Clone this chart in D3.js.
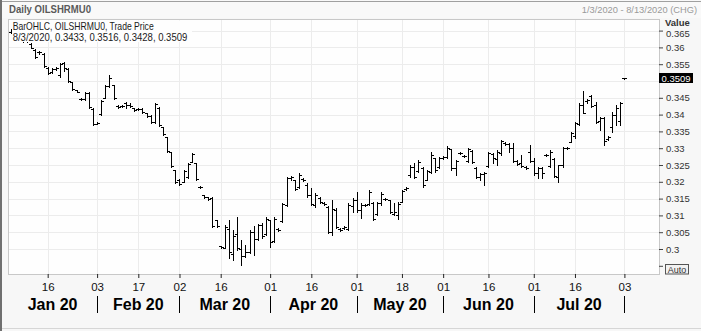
<!DOCTYPE html>
<html><head><meta charset="utf-8">
<script src="https://cdn.jsdelivr.net/npm/d3@7"></script>
<style>html,body{margin:0;padding:0;background:#f7f7f7;}svg{display:block;font-family:"Liberation Sans",Arial,sans-serif;}</style>
</head><body><svg id="c" width="701" height="331"></svg>
<script>
// ---- trading days (categories) ----
const janDays = [3,6,7,8,9,10,13,14,15,16,17,20,21,22,23,24,27,28,29,30,31];
const febDays = [3,4,5,6,7,10,11,12,13,14,17,18,19,20,21,24,25,26,27,28];
const marDays = [2,3,4,5,6,9,10,11,12,13,16,17,18,19,20,23,24,25,26,27,30,31];
const aprDays = [1,2,3,6,7,8,9,13,14,15,16,17,20,21,22,23,24,27,28,29,30];
const mayDays = [1,4,5,6,7,8,11,12,13,14,15,18,19,20,21,22,25,26,27,28,29];
const junDays = [1,2,3,4,5,8,9,10,11,12,15,16,17,18,19,22,23,24,25,26,29,30];
const julDays = [1,2,6,7,8,9,10,13,14,15,16,17,20,21,22,23,24,27,28,29,30,31];
const augDays = [3];

// ---- OHLC series ----
const openV = [.3646,.3648,.3636,.3627,.3620,.3610,.3593,.3585,.3580,.3540,.3526,.3537,.3518,.3553,.3535,.3496,.3472,.3446,.3445,.3465,
.3418,.3373,.3402,.3450,.3485,.3487,.3427,.3425,.3436,.3430,.3419,.3416,.3418,.3404,.3397,.3378,.3421,.3362,.3332,.3288,
.3234,.3205,.3200,.3213,.3260,.3255,.3186,.3160,.3154,.3153,.3085,.3008,.3004,.3060,.2985,.3045,.3000,.2980,.2990,.3050,
.3030,.3072,.3045,.3085,.3025,.3060,.3082,.3130,.3211,.3204,.3185,.3209,.3190,.3160,.3130,.3153,.3138,.3126,.3050,.3115,
.3060,.3062,.3060,.3128,.3145,.3115,.3131,.3133,.3138,.3105,.3137,.3150,.3145,.3105,.3100,.3140,.3178,.3220,.3245,.3232,
.3240,.3206,.3230,.3270,.3245,.3272,.3275,.3297,.3240,.3285,.3278,.3262,.3293,.3242,.3215,.3222,.3248,.3284,.3268,.3285,
.3316,.3313,.3300,.3262,.3255,.3245,.3289,.3262,.3225,.3240,.3280,.3248,.3268,.3215,.3250,.3300,.3318,.3335,.3372,.3430,
.3440,.3455,.3430,.3380,.3390,.3326,.3363,.3399,.3380,.3509];
const highV = [.3655,.3650,.3640,.3632,.3625,.3612,.3595,.3589,.3583,.3542,.3539,.3542,.3554,.3556,.3539,.3497,.3473,.3448,.3467,.3467,
.3420,.3378,.3443,.3488,.3518,.3488,.3429,.3429,.3437,.3434,.3420,.3420,.3420,.3405,.3399,.3434,.3423,.3363,.3333,.3289,
.3235,.3208,.3235,.3256,.3286,.3256,.3187,.3161,.3155,.3155,.3086,.3010,.3071,.3086,.3057,.3095,.3027,.3012,.3057,.3068,
.3074,.3077,.3095,.3086,.3095,.3062,.3137,.3214,.3217,.3205,.3226,.3211,.3196,.3182,.3167,.3155,.3140,.3128,.3146,.3122,
.3062,.3068,.3137,.3152,.3170,.3137,.3134,.3176,.3140,.3140,.3170,.3152,.3146,.3137,.3140,.3176,.3185,.3250,.3256,.3265,
.3244,.3235,.3289,.3271,.3274,.3277,.3307,.3298,.3265,.3289,.3280,.3301,.3295,.3244,.3226,.3229,.3289,.3286,.3295,.3324,
.3318,.3315,.3315,.3265,.3280,.3247,.3310,.3271,.3244,.3244,.3283,.3295,.3271,.3250,.3304,.3304,.3348,.3378,.3434,.3470,
.3446,.3458,.3437,.3393,.3393,.3336,.3408,.3429,.3437,.3510];
const lowV = [.3643,.3632,.3625,.3617,.3615,.3598,.3568,.3580,.3542,.3521,.3524,.3532,.3512,.3530,.3497,.3473,.3467,.3444,.3443,.3420,
.3369,.3372,.3399,.3449,.3482,.3446,.3420,.3423,.3420,.3423,.3411,.3414,.3405,.3393,.3375,.3375,.3366,.3339,.3289,.3244,
.3196,.3190,.3199,.3211,.3259,.3205,.3182,.3152,.3146,.3065,.3065,.3003,.3003,.2973,.2967,.2997,.2952,.2976,.2988,.2982,
.3027,.3033,.3042,.3006,.3021,.3054,.3080,.3128,.3205,.3176,.3182,.3202,.3155,.3131,.3125,.3137,.3131,.3048,.3042,.3062,
.3054,.3060,.3057,.3110,.3110,.3092,.3128,.3131,.3086,.3101,.3131,.3146,.3107,.3101,.3089,.3140,.3176,.3214,.3211,.3229,
.3185,.3205,.3226,.3229,.3241,.3268,.3271,.3235,.3220,.3283,.3274,.3259,.3256,.3211,.3205,.3190,.3244,.3256,.3250,.3280,
.3309,.3289,.3259,.3250,.3244,.3238,.3259,.3220,.3211,.3211,.3277,.3244,.3214,.3199,.3244,.3298,.3318,.3330,.3369,.3405,
.3434,.3423,.3375,.3354,.3310,.3324,.3348,.3369,.3369,.3508];
const closeV = [.3655,.3635,.3628,.3620,.3618,.3598,.3572,.3587,.3545,.3524,.3537,.3540,.3552,.3538,.3500,.3475,.3468,.3446,.3465,.3422,
.3372,.3376,.3440,.3485,.3510,.3448,.3422,.3427,.3428,.3427,.3413,.3418,.3407,.3395,.3377,.3432,.3370,.3341,.3291,.3246,
.3198,.3192,.3233,.3254,.3283,.3208,.3184,.3155,.3150,.3068,.3067,.3005,.3065,.2990,.3040,.3002,.2978,.2991,.3050,.3030,
.3070,.3040,.3090,.3020,.3090,.3057,.3133,.3211,.3214,.3180,.3220,.3205,.3160,.3135,.3160,.3140,.3133,.3052,.3120,.3065,
.3056,.3065,.3130,.3145,.3115,.3130,.3131,.3170,.3090,.3137,.3165,.3149,.3110,.3110,.3135,.3172,.3183,.3245,.3215,.3260,
.3190,.3232,.3280,.3235,.3270,.3274,.3300,.3240,.3262,.3287,.3276,.3298,.3260,.3215,.3223,.3225,.3285,.3270,.3290,.3320,
.3312,.3300,.3262,.3254,.3248,.3241,.3262,.3225,.3240,.3226,.3279,.3290,.3218,.3250,.3300,.3302,.3345,.3375,.3430,.3405,
.3443,.3425,.3378,.3390,.3320,.3333,.3399,.3420,.3434,.3509];

// ---- axis labels ----
const tickDates = ["2020-01-16","2020-02-03","2020-02-17","2020-03-02","2020-03-16","2020-04-01","2020-04-16","2020-05-01","2020-05-18","2020-06-01","2020-06-16","2020-07-01","2020-07-16","2020-08-03"];
const tickLabels = ["16","03","17","02","16","01","16","01","18","01","16","01","16","03"];
const monthStarts = ["2020-02-03","2020-03-02","2020-04-01","2020-05-01","2020-06-01","2020-07-01","2020-08-03"];
const monthLabels = ["Jan 20","Feb 20","Mar 20","Apr 20","May 20","Jun 20","Jul 20"];
const yTicks = [0.295,0.3,0.305,0.31,0.315,0.32,0.325,0.33,0.335,0.34,0.345,0.35,0.355,0.36,0.365];
const yLabels = ["","0.3","0.305","0.31","0.315","0.32","0.325","0.33","0.335","0.34","0.345","","0.355","0.36","0.365"];
const gridTicks = [0.3,0.305,0.31,0.315,0.32,0.325,0.33,0.335,0.34,0.345,0.35,0.355,0.36,0.365];
const lastPrice = "0.3509";
const titleText = "Daily OILSHRMU0";
const rangeText = "1/3/2020 - 8/13/2020 (CHG)";
const legend1 = "BarOHLC, OILSHRMU0, Trade Price";
const legend2 = "8/3/2020, 0.3433, 0.3516, 0.3428, 0.3509";

const pad = n => String(n).padStart(2,"0");
const dates = [];
[[1,janDays],[2,febDays],[3,marDays],[4,aprDays],[5,mayDays],[6,junDays],[7,julDays],[8,augDays]]
  .forEach(([m,arr]) => arr.forEach(d => dates.push(`2020-${pad(m)}-${pad(d)}`)));
const data = dates.map((d,i)=>({d, o:openV[i], h:highV[i], l:lowV[i], c:closeV[i]}));

const svg = d3.select("#c");
const P = {l:8, t:19, r:659, b:274};
const x = d3.scalePoint().domain(dates).range([10.6, 624.4]);
const y = d3.scaleLinear().domain([0.3,0.365]).range([249,30.6]);
const px = v => Math.round(v)+0.5;

// frame
svg.append("rect").attr("width",701).attr("height",331).attr("fill","#f7f7f7");
svg.append("rect").attr("x",0).attr("y",0).attr("width",701).attr("height",18).attr("fill","#f9f9f9");
svg.append("line").attr("x1",0).attr("x2",701).attr("y1",1.5).attr("y2",1.5).attr("stroke","#a0a0a0");
svg.append("line").attr("x1",1).attr("x2",1).attr("y1",0).attr("y2",331).attr("stroke","#707070").attr("stroke-width",2);
svg.append("line").attr("x1",2).attr("x2",701).attr("y1",328.5).attr("y2",328.5).attr("stroke","#d6d6d6");

// plot area
svg.append("rect").attr("x",P.l+0.5).attr("y",P.t+0.5).attr("width",P.r-P.l).attr("height",P.b-P.t)
  .attr("fill","#fefefe").attr("stroke","#c8c8c8");

const grid = svg.append("g").attr("stroke","#ececec").attr("shape-rendering","crispEdges");
grid.selectAll("line.h").data(gridTicks).join("line").attr("class","h")
  .attr("x1",P.l+1).attr("x2",P.r).attr("y1",d=>px(y(d))).attr("y2",d=>px(y(d)));
grid.selectAll("line.v").data(tickDates).join("line").attr("class","v")
  .attr("y1",P.t+1).attr("y2",P.b).attr("x1",d=>px(x(d))).attr("x2",d=>px(x(d)));

// bars
const bars = svg.append("g").attr("stroke","#000").attr("stroke-width",1).attr("fill","none").attr("shape-rendering","crispEdges");
bars.selectAll("path").data(data).join("path")
  .attr("d", d => {
    const cx = Math.round(x(d.d))+0.5;
    const yh = Math.round(y(d.h)), yl = Math.max(Math.round(y(d.l)), yh+1);
    const yo = Math.round(y(d.o))+0.5, yc = Math.round(y(d.c))+0.5;
    return `M${cx},${yh}V${yl+1}M${cx-2.5},${yo}H${cx}M${cx},${yc}H${cx+2.5}`;
  });

// legend
svg.append("rect").attr("x",12).attr("y",20.5).attr("width",180).attr("height",21.5).attr("fill","#fefefe");
svg.append("text").attr("x",12.7).attr("y",30).attr("font-size",10.5).attr("fill","#1a1a1a")
  .attr("textLength",141).attr("lengthAdjust","spacingAndGlyphs").text(legend1);
svg.append("text").attr("x",12.7).attr("y",40.5).attr("font-size",10.5).attr("fill","#1a1a1a")
  .attr("textLength",174.6).attr("lengthAdjust","spacingAndGlyphs").text(legend2);

// header texts
svg.append("text").attr("x",9).attr("y",13).attr("font-size",10.5).attr("font-weight","bold").attr("fill","#5a5a5a")
  .attr("textLength",82).attr("lengthAdjust","spacingAndGlyphs").text(titleText);
svg.append("text").attr("x",697).attr("y",13).attr("text-anchor","end").attr("font-size",9.3).attr("fill","#9a9a9a")
  .text(rangeText);

// right axis
const yAxis = d3.axisRight(y).tickValues(yTicks).tickFormat((d,i)=>yLabels[i]).tickSize(4).tickPadding(3);
const ya = svg.append("g").attr("transform",`translate(${P.r},0)`).call(yAxis);
ya.select(".domain").remove();
ya.selectAll(".tick line").attr("stroke","#444");
ya.selectAll(".tick text").attr("font-size",9.5).attr("fill","#333").attr("font-family","Liberation Sans, Arial, sans-serif");
ya.selectAll(".tick text").filter(d => d === 0.365).attr("dy","0.32em").attr("y",2.5);
svg.append("text").attr("x",665).attr("y",26).attr("font-size",9.5).attr("font-weight","bold").attr("fill","#333").text("Value");

// last price box
const ly = y(+lastPrice);
svg.append("rect").attr("x",659).attr("y",Math.round(ly)-5).attr("width",34).attr("height",10).attr("fill","#000");
svg.append("text").attr("x",676).attr("y",Math.round(ly)+3.5).attr("text-anchor","middle").attr("font-size",9.5)
  .attr("fill","#fff").text(lastPrice);

// Auto box
svg.append("rect").attr("x",665.5).attr("y",264.5).attr("width",23).attr("height",9.5).attr("fill","#f2f2f2").attr("stroke","#555");
svg.append("text").attr("x",677).attr("y",272.5).attr("text-anchor","middle").attr("font-size",9).attr("fill","#333").text("Auto");

// bottom axis
const xAxis = d3.axisBottom(x).tickValues(tickDates).tickFormat((d,i)=>tickLabels[i]).tickSize(4);
const xa = svg.append("g").attr("transform",`translate(0,${P.b})`).call(xAxis);
xa.select(".domain").remove();
xa.selectAll(".tick line").attr("stroke","#222");
xa.selectAll(".tick text").attr("y",17).attr("dy",0).attr("font-size",11.5).attr("fill","#111")
  .attr("font-family","Liberation Sans, Arial, sans-serif");

// month separators & labels
svg.append("g").selectAll("line").data(monthStarts).join("line")
  .attr("x1",d=>px(x(d))).attr("x2",d=>px(x(d))).attr("y1",296).attr("y2",313).attr("stroke","#000");
const bounds = [P.l, ...monthStarts.map(d=>x(d))];
svg.append("g").selectAll("text").data(monthLabels).join("text")
  .attr("x",(d,i)=>(bounds[i]+bounds[i+1])/2).attr("y",310).attr("text-anchor","middle")
  .attr("font-size",16).attr("font-weight","bold").attr("fill","#000").text(d=>d);
</script></body></html>
